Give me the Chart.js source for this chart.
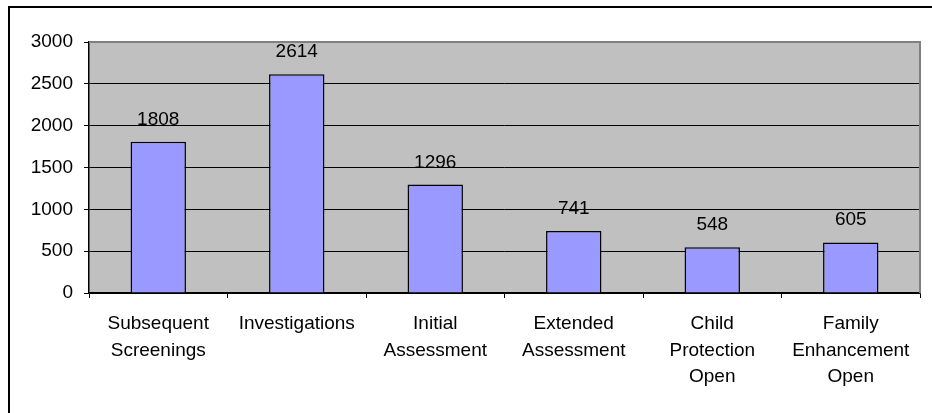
<!DOCTYPE html>
<html>
<head>
<meta charset="utf-8">
<script src="https://cdn.jsdelivr.net/npm/chart.js@4.4.1/dist/chart.umd.min.js"></script>
<style>
  html,body{margin:0;padding:0;background:#fff;overflow:hidden;}
  #frame{position:absolute;left:8px;top:6px;width:1000px;height:500px;border:2px solid #000;box-sizing:border-box;}
  #wrap{position:absolute;left:0;top:0;width:932px;height:413px;}
</style>
</head>
<body>
<div id="frame"></div>
<div id="wrap"><canvas id="chart" width="932" height="413"></canvas></div>
<script>
// data
const categories=[
  ['Subsequent','Screenings'],
  'Investigations',
  ['Initial','Assessment'],
  ['Extended','Assessment'],
  ['Child','Protection','Open'],
  ['Family','Enhancement','Open']
];
const counts=[1808, 2614, 1296, 741, 548, 605];
const yTicks=[0, 500, 1000, 1500, 2000, 2500, 3000];

const FONT="'Liberation Sans', Arial, sans-serif";

// gray plot area + gray top/right border (Excel style)
const plotBg={
  id:'plotBg',
  beforeDraw(c){
    let a=c.chartArea, ctx=c.ctx;
    ctx.save(); ctx.fillStyle='#C0C0C0';
    ctx.fillRect(a.left,a.top,a.right-a.left,a.bottom-a.top);
    ctx.restore();
  },
  afterDraw(c){
    let a=c.chartArea, ctx=c.ctx;
    ctx.save(); ctx.strokeStyle='#808080'; ctx.lineWidth=2;
    ctx.beginPath(); ctx.moveTo(a.left,a.top); ctx.lineTo(a.right,a.top); ctx.lineTo(a.right,a.bottom); ctx.stroke();
    ctx.restore();
  }
};

// value labels above the bars
const valueLabels={
  id:'valueLabels',
  afterDatasetsDraw(c){
    let ctx=c.ctx, meta=c.getDatasetMeta(0);
    ctx.save();
    ctx.font='19px '+FONT; ctx.fillStyle='#000';
    ctx.textAlign='center'; ctx.textBaseline='alphabetic';
    meta.data.forEach((bar,i)=>{ ctx.fillText(String(counts[i]), bar.x, bar.y-17); });
    ctx.restore();
  }
};

new Chart(document.getElementById('chart'),{
  type:'bar',
  data:{
    labels:categories,
    datasets:[{
      data:counts,
      backgroundColor:'#9999FF',
      borderColor:'#000',
      borderWidth:1.5,
      categoryPercentage:1,
      barPercentage:0.4
    }]
  },
  options:{
    responsive:false,
    animation:false,
    devicePixelRatio:1,
    layout:{padding:{left:0,top:42,right:12,bottom:0}},
    plugins:{legend:{display:false},tooltip:{enabled:false}},
    scales:{
      y:{
        min:0,max:3000,
        afterBuildTicks(s){ s.ticks=yTicks.map(v=>({value:v})); },
        afterFit(s){ s.width=89; },
        ticks:{color:'#000',font:{family:FONT,size:19},padding:11,callback:v=>String(v)},
        grid:{
          color:ctx=>ctx.tick&&ctx.tick.value===3000?'#808080':'#000',
          tickColor:'#000',tickLength:5,lineWidth:1
        },
        border:{color:'#000',width:1.5}
      },
      x:{
        afterFit(s){ s.height=120; },
        ticks:{color:'#000',font:{family:FONT,size:19,lineHeight:1.38},padding:13,maxRotation:0,autoSkip:false},
        grid:{drawOnChartArea:false,tickColor:'#000',tickLength:5,offset:true},
        border:{color:'#000',width:1.5}
      }
    }
  },
  plugins:[plotBg,valueLabels]
});
</script>
</body>
</html>
